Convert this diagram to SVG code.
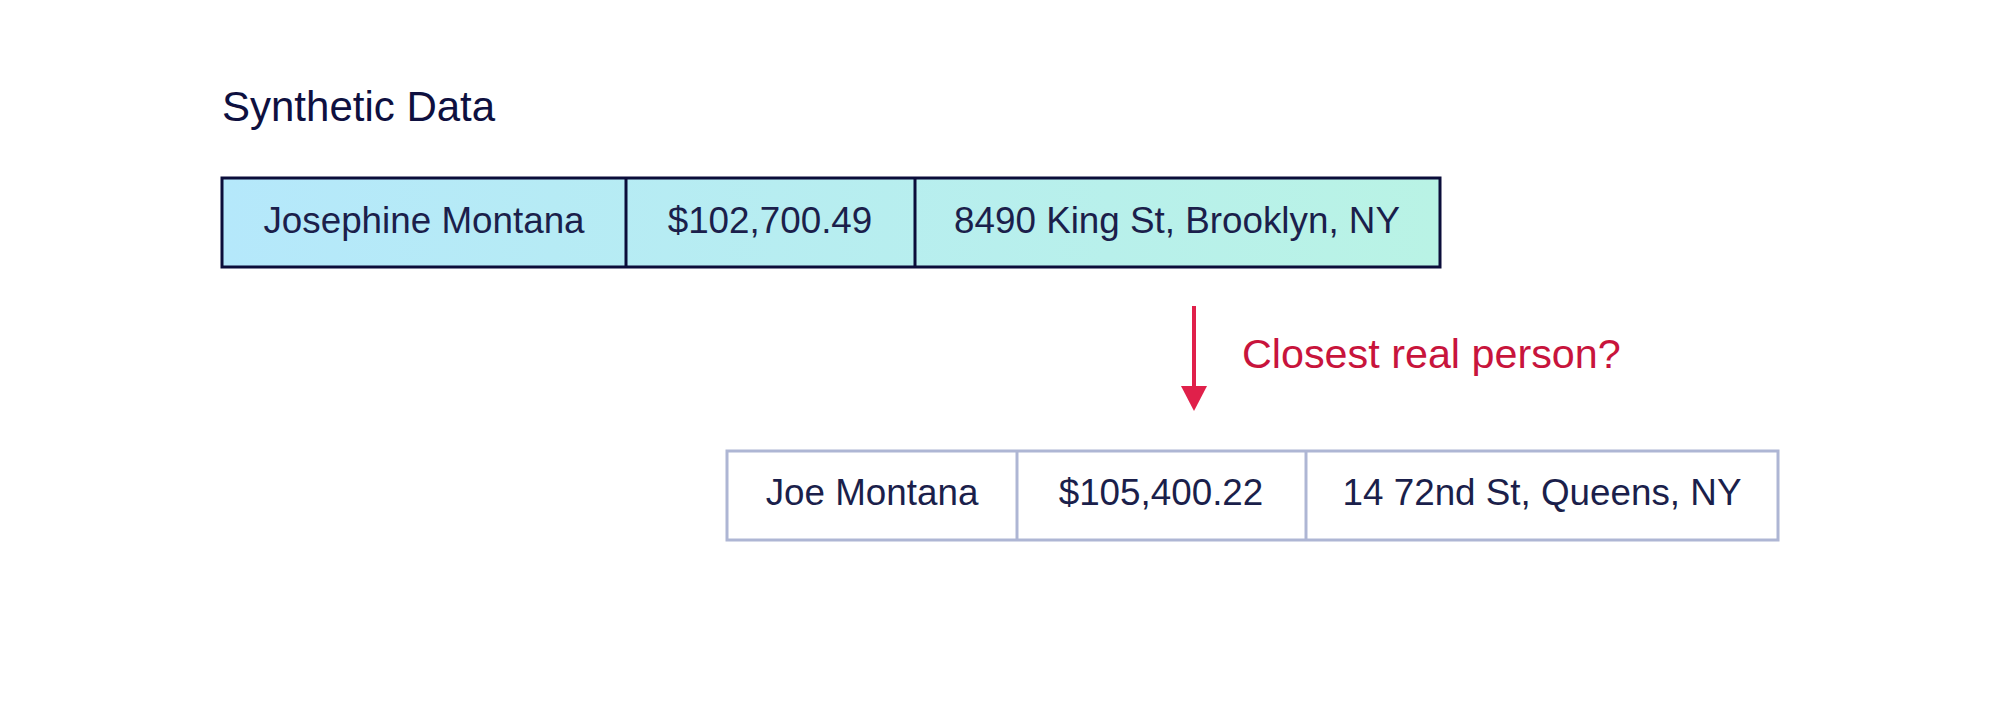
<svg xmlns="http://www.w3.org/2000/svg" width="2000" height="718" viewBox="0 0 2000 718">
<style>
text{font-family:"Liberation Sans",Arial,sans-serif;}
.cell{font-size:36.8px;fill:#1b1f4b;text-anchor:middle;}
.title{font-size:42px;fill:#0e1040;}
.lbl{font-size:41.3px;fill:#c8143c;}
.synth{stroke:#0b0d3a;stroke-width:3;}
.real{stroke:#aeb6d4;stroke-width:3;fill:#ffffff;}
</style>
<defs>
<linearGradient id="g" x1="0" y1="0" x2="1" y2="0">
<stop offset="0" stop-color="#b5e8fb"/>
<stop offset="1" stop-color="#b9f3e5"/>
</linearGradient>
</defs>
<text class="title" x="222" y="121">Synthetic Data</text>
<g id="synthetic">
<rect x="222" y="178" width="1218" height="89" fill="url(#g)" class="synth"/>
<line x1="626" y1="178" x2="626" y2="267" class="synth"/>
<line x1="915" y1="178" x2="915" y2="267" class="synth"/>
<text class="cell" x="424" y="233">Josephine Montana</text>
<text class="cell" x="770" y="233">$102,700.49</text>
<text class="cell" x="1177" y="233">8490 King St, Brooklyn, NY</text>
</g>
<g id="real">
<rect x="727" y="451" width="1051" height="89" class="real"/>
<line x1="1017" y1="451" x2="1017" y2="540" class="real"/>
<line x1="1306" y1="451" x2="1306" y2="540" class="real"/>
<text class="cell" x="872" y="505">Joe Montana</text>
<text class="cell" x="1161" y="505">$105,400.22</text>
<text class="cell" x="1542" y="505">14 72nd St, Queens, NY</text>
</g>
<g id="connectors">
<line x1="1194" y1="306" x2="1194" y2="387" stroke="#e0204a" stroke-width="4"/>
<path d="M1181,386 L1207,386 L1194,411 Z" fill="#e0204a"/>
<text class="lbl" x="1242" y="368">Closest real person?</text>
</g>
</svg>
